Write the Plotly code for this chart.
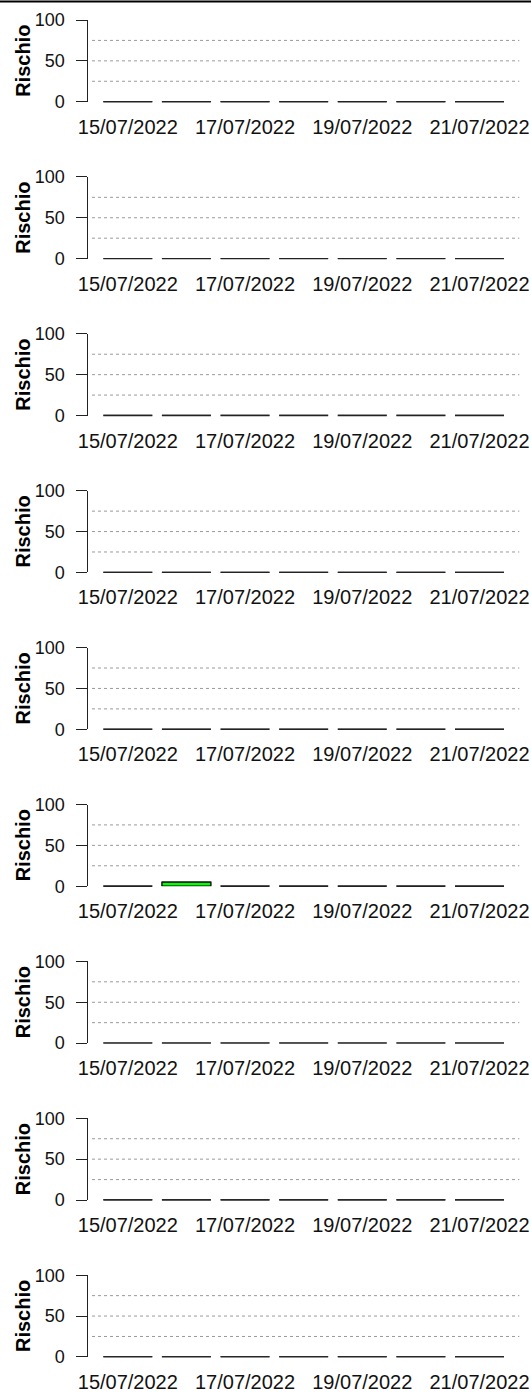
# =============================================================================
# plot.py — Rischio giornaliero per 9 pannelli (15/07/2022 - 21/07/2022)
# =============================================================================

import plotly.graph_objects as go

# Giorni (categorie dell'asse x)
giorni = ["15/07/2022", "16/07/2022", "17/07/2022", "18/07/2022",
          "19/07/2022", "20/07/2022", "21/07/2022"]

# Etichette mostrate sull'asse x (una ogni due giorni)
etichette_x = ["15/07/2022", "17/07/2022", "19/07/2022", "21/07/2022"]

# Valori di rischio per pannello
rischio_1 = [0, 0, 0, 0, 0, 0, 0]
rischio_2 = [0, 0, 0, 0, 0, 0, 0]
rischio_3 = [0, 0, 0, 0, 0, 0, 0]
rischio_4 = [0, 0, 0, 0, 0, 0, 0]
rischio_5 = [0, 0, 0, 0, 0, 0, 0]
rischio_6 = [0, 5, 0, 0, 0, 0, 0]
rischio_7 = [0, 0, 0, 0, 0, 0, 0]
rischio_8 = [0, 0, 0, 0, 0, 0, 0]
rischio_9 = [0, 0, 0, 0, 0, 0, 0]

tick_y = [0, 50, 100]
griglia_y = [25, 50, 75]

PANNELLI = [rischio_1, rischio_2, rischio_3, rischio_4, rischio_5,
            rischio_6, rischio_7, rischio_8, rischio_9]

W, H = 531, 1395
FONT = "Liberation Sans, Arial, sans-serif"

# geometria in pixel (ricavata dall'immagine di riferimento)
TOP0 = 20.0       # y del valore 100 nel primo pannello
ALTEZZA = 81.7    # altezza 0..100
PASSO = 156.9     # distanza verticale tra pannelli
X_ASSE = 88.3
X_FINE = 519.3
X_GRIGLIA = 92.0


def dominio_y(k: int) -> list:
    top = TOP0 + PASSO * k
    bottom = top + ALTEZZA
    return [1 - bottom / H, 1 - top / H]


fig = go.Figure()

for k, valori in enumerate(PANNELLI):
    n = k + 1
    xa = "x" if n == 1 else f"x{n}"
    ya = "y" if n == 1 else f"y{n}"

    fig.add_trace(go.Bar(
        x=giorni,
        y=valori,
        xaxis=xa, yaxis=ya,
        marker=dict(color="#00ff00", line=dict(color="black", width=1.3)),
        width=0.836,
        hoverinfo="skip",
        showlegend=False,
    ))
    # le barre a zero vengono disegnate come un trattino
    # (il simbolo line-ew è largo 1.4 * size)
    fig.add_trace(go.Scatter(
        x=giorni,
        y=valori,
        xaxis=xa, yaxis=ya,
        mode="markers",
        marker=dict(symbol="line-ew", size=35,
                    line=dict(color="#222", width=1.4)),
        cliponaxis=False,
        hoverinfo="skip",
        showlegend=False,
    ))

    # griglia tratteggiata
    for g in griglia_y:
        fig.add_shape(
            type="line", xref=f"{xa} domain", yref=ya,
            x0=(X_GRIGLIA - X_ASSE) / (X_FINE - X_ASSE), x1=1, y0=g, y1=g,
            line=dict(color="#9a9a9a", width=1, dash="dot"),
            layer="below",
        )

    # titolo asse y
    d = dominio_y(k)
    fig.add_annotation(
        text="<b>Rischio</b>", textangle=-90,
        xref="paper", yref="paper",
        x=23.0 / W, y=(d[0] + d[1]) / 2,
        xanchor="center", yanchor="middle",
        showarrow=False,
        font=dict(family=FONT, size=20, color="black"),
    )

    sfx = "" if n == 1 else str(n)
    fig.update_layout(**{
        f"xaxis{sfx}": dict(
            domain=[X_ASSE / W, X_FINE / W],
            anchor=ya,
            type="category",
            range=[-0.674, 6.679],
            tickmode="array",
            tickvals=etichette_x,
            ticktext=etichette_x,
            showline=False, showgrid=False, zeroline=False,
            ticks="",
            ticklabelstandoff=11,
            automargin=False,
            tickfont=dict(family=FONT, size=20, color="#111"),
        ),
        f"yaxis{sfx}": dict(
            domain=d,
            anchor=xa,
            range=[0, 100],
            tickmode="array",
            tickvals=tick_y,
            showline=True, linecolor="#222", linewidth=1,
            showgrid=False, zeroline=False,
            ticks="outside", ticklen=11, tickcolor="#222", tickwidth=1,
            ticklabelstandoff=8,
            automargin=False,
            tickfont=dict(family=FONT, size=18, color="#111"),
        ),
    })

# bordo superiore
fig.add_shape(type="line", xref="paper", yref="paper",
              x0=0, x1=1, y0=1 - 1.5 / H, y1=1 - 1.5 / H,
              line=dict(color="black", width=2))

fig.update_layout(
    width=W, height=H,
    margin=dict(l=0, r=0, t=0, b=0, autoexpand=False),
    paper_bgcolor="white",
    plot_bgcolor="white",
    bargap=0.15,
    showlegend=False,
)

# niente margine di pagina, così il grafico parte dall'angolo in alto
fig.write_html("out.html", config={"displayModeBar": False},
               post_script="document.body.style.margin='0';")
